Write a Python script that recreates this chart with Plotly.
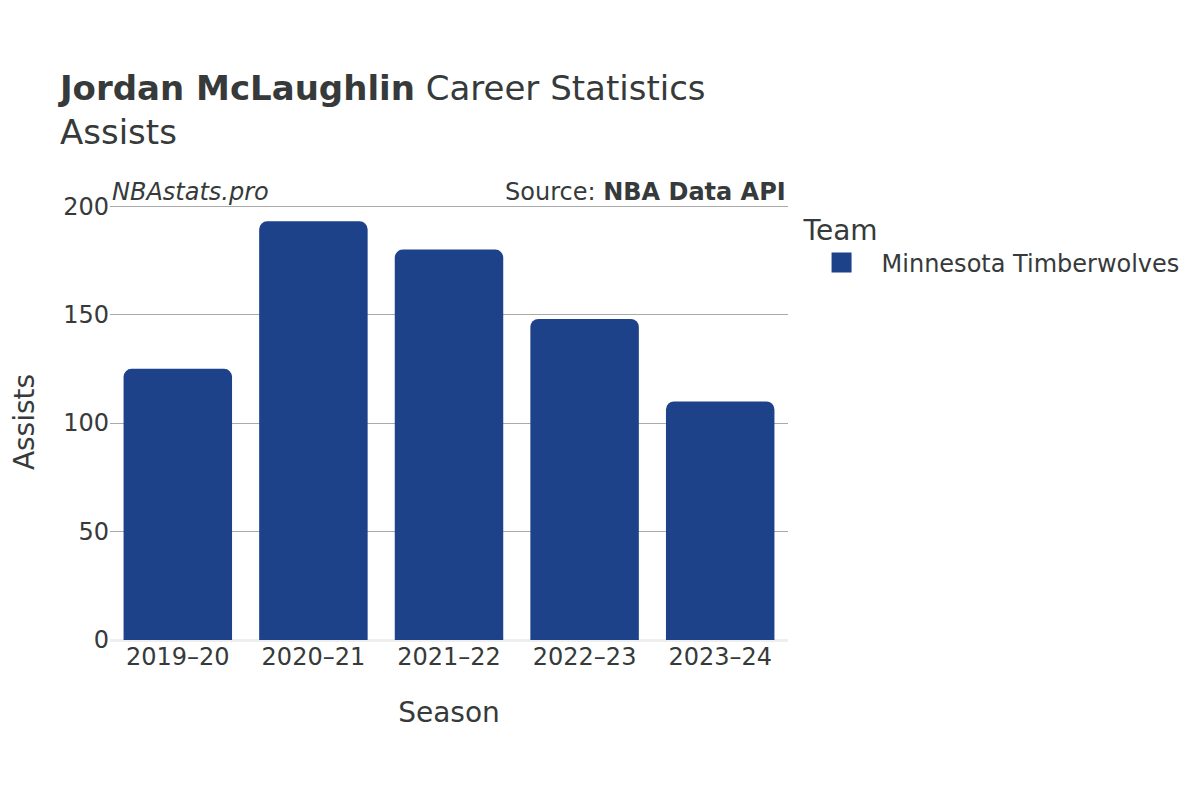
import plotly.graph_objects as go

seasons = ["2019–20", "2020–21", "2021–22", "2022–23", "2023–24"]
assists = [125, 193, 180, 148, 110]
team = "Minnesota Timberwolves"
team_color = "#1D428A"

font_family = "DejaVu Sans, sans-serif"
text_color = "#363a3a"

fig = go.Figure()
fig.add_trace(go.Bar(
    x=seasons, y=assists, name=team,
    marker=dict(color=team_color, cornerradius=8, line=dict(width=0)),
    showlegend=False,
))
# legend entry with larger square symbol
fig.add_trace(go.Scatter(
    x=[None], y=[None], mode="markers", name=team,
    marker=dict(symbol="square", size=16, color=team_color,
                line=dict(color=team_color, width=4)),
    showlegend=True,
))

fig.update_layout(
    width=1200, height=800,
    paper_bgcolor="white", plot_bgcolor="white",
    font=dict(family=font_family, color=text_color, size=24),
    title=dict(
        text="<b>Jordan McLaughlin</b> Career Statistics<br>Assists",
        x=0.0433, xref="container", xanchor="left", y=0.885, yanchor="top",
        font=dict(size=34, color=text_color),
    ),
    margin=dict(l=102, r=420, t=196, b=168),
    bargap=0.2,
    xaxis=dict(
        title=dict(text="Season", font=dict(size=28), standoff=32),
        tickfont=dict(size=24), showgrid=False, ticks="",
    ),
    yaxis=dict(
        title=dict(text="Assists", font=dict(size=28), standoff=30),
        automargin=False,
        range=[0, 201], tickvals=[0, 50, 100, 150, 200],
        tickfont=dict(size=24),
        showgrid=True, gridcolor="#aaaaaa", gridwidth=1,
        zeroline=True, zerolinecolor="#eeeeee", zerolinewidth=3,
    ),
    legend=dict(
        title=dict(text="Team", font=dict(size=28)),
        font=dict(size=24),
        x=1.02, xanchor="left", y=1.0, yanchor="top",
        itemsizing="trace", itemwidth=70,
    ),
    annotations=[
        dict(text="<i>NBAstats.pro</i>", xref="paper", yref="paper",
             x=0.0, y=1.0, xanchor="left", yanchor="bottom", yshift=-4,
             showarrow=False, font=dict(size=24, color=text_color)),
        dict(text="Source: <b>NBA Data API</b>", xref="paper", yref="paper",
             x=1.0, y=1.0, xanchor="right", yanchor="bottom", yshift=-4,
             showarrow=False, font=dict(size=24, color=text_color)),
    ],
)

fig.write_html("out.html")
